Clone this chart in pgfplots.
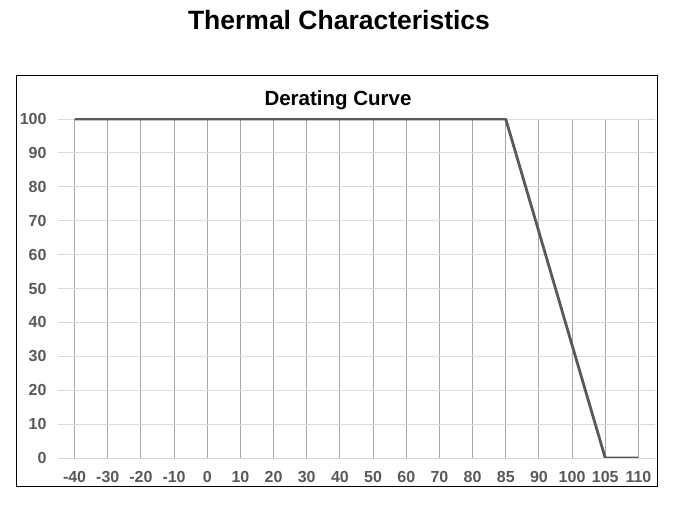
\documentclass[border=0pt]{standalone}
\usepackage{fontspec}
\setmainfont{Liberation Sans}
\usepackage{pgfplots}
\pgfplotsset{compat=1.18}
\definecolor{txtgray}{HTML}{595959}
\definecolor{linegray}{HTML}{595959}
\definecolor{vgrid}{HTML}{A6A6A6}
\definecolor{hgrid}{HTML}{D9D9D9}
\begin{document}
\begin{tikzpicture}[x=1pt,y=1pt]
  % page frame (675 x 506)
  \path (0,0) rectangle (675,506);
  % chart box
  \draw[black, line width=1pt] (16,19) rectangle (657,430);
  \node[font=\bfseries\fontsize{26.5}{26.5}\selectfont] at (339,486) {Thermal Characteristics};
  \node[font=\bfseries\fontsize{20.5}{20.5}\selectfont] at (338,406) {Derating Curve};
  \begin{axis}[
    at={(58pt,48pt)},
    anchor=south west,
    scale only axis,
    width=597pt,
    height=339pt,
    xmin=-0.5, xmax=17.5,
    ymin=0, ymax=100,
    xtick={0,...,17},
    xticklabels={-40,-30,-20,-10,0,10,20,30,40,50,60,70,80,85,90,100,105,110},
    ytick={0,10,...,100},
    axis line style={draw=none},
    major tick length=0pt,
    xmajorgrids, ymajorgrids,
    x grid style={vgrid, line width=0.9pt},
    y grid style={hgrid, line width=0.9pt},
    /pgf/number format/assume math mode=true,
    tick label style={font=\bfseries\fontsize{16}{16}\selectfont, text=txtgray},
    xticklabel style={yshift=-10pt},
    yticklabel style={xshift=-8pt},
  ]
    \addplot[color=linegray, line width=2.8pt, line join=round] coordinates {
      (0,100) (1,100) (2,100) (3,100) (4,100) (5,100) (6,100)
      (7,100) (8,100) (9,100) (10,100) (11,100) (12,100) (13,100)
      (14,66.7) (15,33.3) (16,0) (17,0)
    };
  \end{axis}
\end{tikzpicture}
\end{document}
